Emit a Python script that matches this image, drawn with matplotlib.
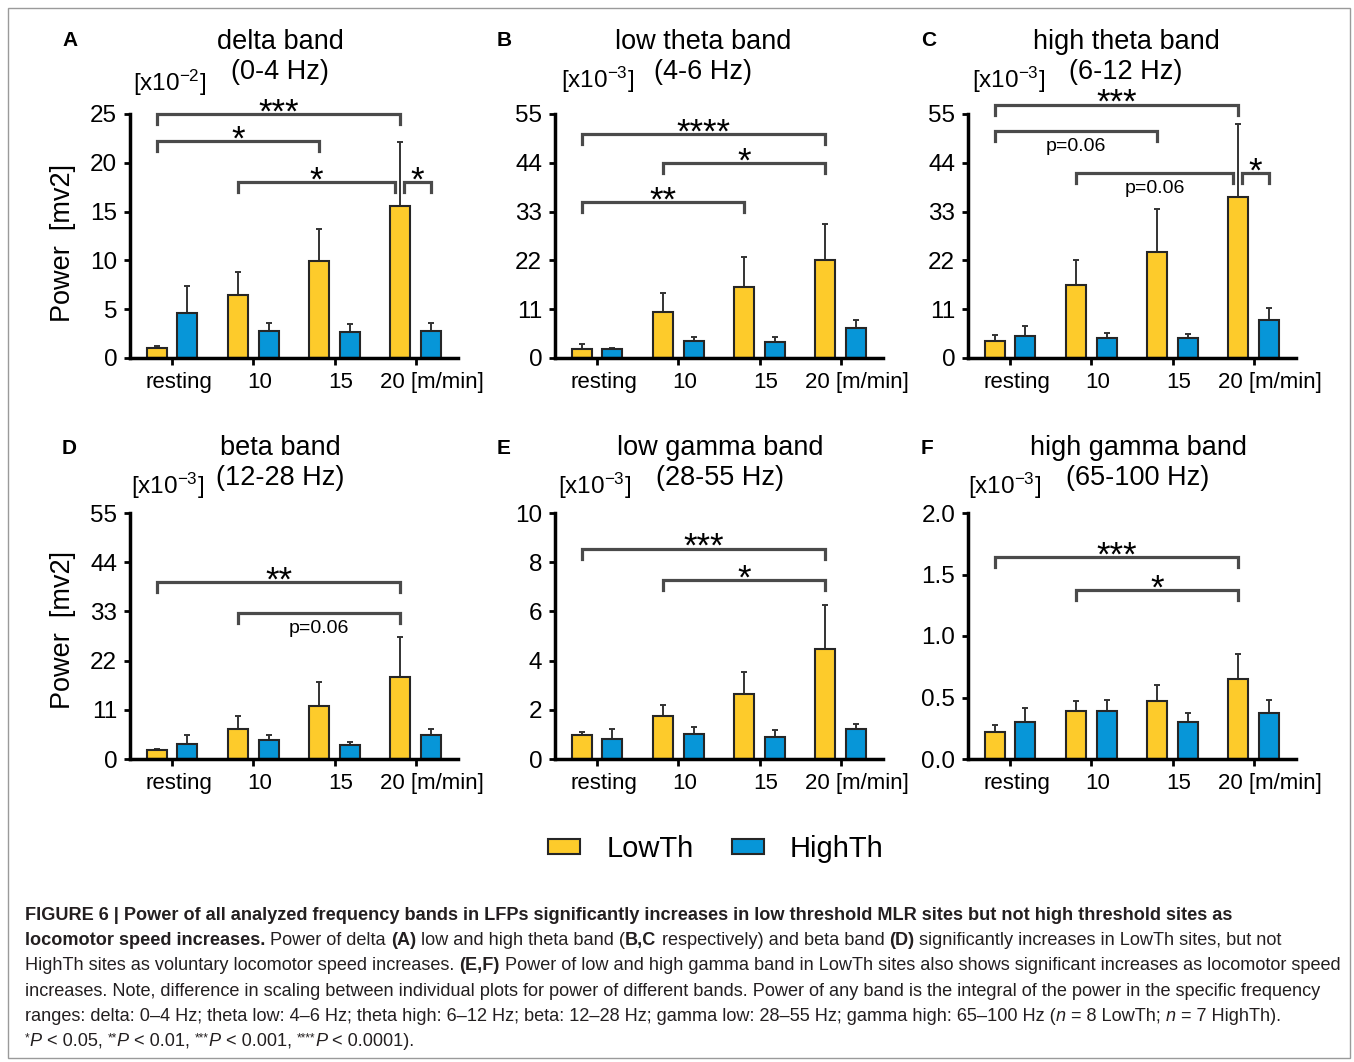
import numpy as np
import matplotlib
matplotlib.use('Agg')
import matplotlib.pyplot as plt
from matplotlib.patches import Patch, Rectangle

plt.rcParams['font.family'] = ['Liberation Sans', 'DejaVu Sans']
plt.rcParams['mathtext.fontset'] = 'custom'
plt.rcParams['mathtext.rm'] = 'Liberation Sans'
plt.rcParams['mathtext.it'] = 'Liberation Sans:italic'
plt.rcParams['mathtext.bf'] = 'Liberation Sans:bold'

W, H = 1354, 1062

# ---------------- data ----------------
categories = ['resting', '10', '15', '20 [m/min]']
series_names = ['LowTh', 'HighTh']

delta_low = [1.0, 6.45, 9.9, 15.55]
delta_low_sem = [0.25, 2.4, 3.3, 6.55]
delta_high = [4.65, 2.77, 2.7, 2.77]
delta_high_sem = [2.75, 0.83, 0.8, 0.83]

ltheta_low = [2.1, 10.4, 16.0, 22.1]
ltheta_low_sem = [1.1, 4.3, 6.8, 8.0]
ltheta_high = [2.1, 3.8, 3.7, 6.7]
ltheta_high_sem = [0.1, 0.9, 1.0, 1.9]

htheta_low = [3.9, 16.4, 23.9, 36.2]
htheta_low_sem = [1.3, 5.8, 9.7, 16.5]
htheta_high = [5.0, 4.6, 4.5, 8.5]
htheta_high_sem = [2.3, 1.0, 0.8, 2.8]

beta_low = [2.0, 6.8, 11.8, 18.3]
beta_low_sem = [0.2, 2.8, 5.5, 9.0]
beta_high = [3.3, 4.2, 3.1, 5.3]
beta_high_sem = [2.0, 1.1, 0.6, 1.4]

lgamma_low = [0.98, 1.76, 2.65, 4.46]
lgamma_low_sem = [0.13, 0.44, 0.9, 1.81]
lgamma_high = [0.81, 1.0, 0.91, 1.21]
lgamma_high_sem = [0.4, 0.31, 0.27, 0.2]

hgamma_low = [0.216, 0.388, 0.469, 0.652]
hgamma_low_sem = [0.064, 0.081, 0.129, 0.203]
hgamma_high = [0.297, 0.388, 0.297, 0.37]
hgamma_high_sem = [0.121, 0.089, 0.073, 0.107]

titles = ['delta band', 'low theta band', 'high theta band',
          'beta band', 'low gamma band', 'high gamma band']
ranges = ['(0-4 Hz)', '(4-6 Hz)', '(6-12 Hz)', '(12-28 Hz)', '(28-55 Hz)', '(65-100 Hz)']
scales = ['-2', '-3', '-3', '-3', '-3', '-3']
letters = ['A', 'B', 'C', 'D', 'E', 'F']
ylims = [25, 55, 55, 55, 10, 2.0]
yticks = [[0, 5, 10, 15, 20, 25],
          [0, 11, 22, 33, 44, 55],
          [0, 11, 22, 33, 44, 55],
          [0, 11, 22, 33, 44, 55],
          [0, 2, 4, 6, 8, 10],
          [0.0, 0.5, 1.0, 1.5, 2.0]]

# significance brackets: (start cat, start series, end cat, end series, level, label)
brackets = [
    [(0, 'L', 3, 'L', 25.0, '***'), (0, 'L', 2, 'L', 22.25, '*'),
     (1, 'L', 3, 'L-', 18.0, '*'), (3, 'L+', 3, 'H', 18.0, '*')],
    [(0, 'L', 3, 'L', 50.4, '****'), (1, 'L', 3, 'L', 44.0, '*'),
     (0, 'L', 2, 'L', 35.1, '**')],
    [(0, 'L', 3, 'L', 57.1, '***'), (0, 'L', 2, 'L', 51.1, 'p=0.06'),
     (1, 'L', 3, 'L-', 41.7, 'p=0.06'), (3, 'L+', 3, 'H', 41.7, '*')],
    [(0, 'L', 3, 'L', 39.6, '**'), (1, 'L', 3, 'L', 32.6, 'p=0.06')],
    [(0, 'L', 3, 'L', 8.55, '***'), (1, 'L', 3, 'L', 7.26, '*')],
    [(0, 'L', 3, 'L', 1.64, '***'), (1, 'L', 3, 'L', 1.372, '*')],
]

lows = [delta_low, ltheta_low, htheta_low, beta_low, lgamma_low, hgamma_low]
lows_sem = [delta_low_sem, ltheta_low_sem, htheta_low_sem, beta_low_sem, lgamma_low_sem, hgamma_low_sem]
highs = [delta_high, ltheta_high, htheta_high, beta_high, lgamma_high, hgamma_high]
highs_sem = [delta_high_sem, ltheta_high_sem, htheta_high_sem, beta_high_sem, lgamma_high_sem, hgamma_high_sem]

# ---------------- style ----------------
YEL = '#FDCB2B'
BLU = '#0796D8'
EDGE = '#262626'
BRK = '#4a4a4a'
OFF = {'L': -0.19, 'H': 0.19, 'L-': -0.255, 'L+': -0.15}
BW = 0.245

fig = plt.figure(figsize=(W / 100, H / 100), dpi=100)
fig.patch.set_facecolor('white')

def fx(x):
    return x / W

def fy(y):
    return 1 - y / H

unit = 81.3
tick0 = [172, 597, 1010, 172, 597, 1010]
row_top = [114, 114, 114, 513, 513, 513]
row_bot = [358, 358, 358, 759, 759, 759]
xlo, xhi = -0.52, 3.52

title_x = [280, 703, 1126, 280, 720, 1138]
title_base = [49, 49, 49, 455, 455, 455]
unit_x = [133, 561, 972, 131, 558, 968]
unit_base = [91, 88, 88, 494, 494, 494]
letter_x = [62, 497, 921, 62, 497, 921]
letter_y = [40, 40, 40, 448, 448, 448]

for k in range(6):
    left = tick0[k] + xlo * unit
    width = (xhi - xlo) * unit
    ax = fig.add_axes([fx(left), fy(row_bot[k]), width / W, (row_bot[k] - row_top[k]) / H])
    x = np.arange(len(categories))
    lo, hi = np.array(lows[k]), np.array(highs[k])
    los, his = np.array(lows_sem[k]), np.array(highs_sem[k])
    ax.errorbar(x + OFF['L'], lo, yerr=[np.zeros_like(lo), los], fmt='none',
                ecolor='#333333', elinewidth=1.4, capsize=2.5, capthick=1.4, zorder=1)
    ax.errorbar(x + OFF['H'], hi, yerr=[np.zeros_like(hi), his], fmt='none',
                ecolor='#333333', elinewidth=1.4, capsize=2.5, capthick=1.4, zorder=1)
    ax.bar(x + OFF['L'], lo, BW, color=YEL, edgecolor=EDGE, linewidth=1.5, zorder=2)
    ax.bar(x + OFF['H'], hi, BW, color=BLU, edgecolor=EDGE, linewidth=1.5, zorder=2)
    ax.set_xlim(xlo, xhi)
    ax.set_ylim(0, ylims[k])
    ax.set_yticks(yticks[k])
    if k == 5:
        ax.set_yticklabels(['%.1f' % v for v in yticks[k]])
    else:
        ax.set_yticklabels(['%d' % v for v in yticks[k]])
    ax.set_xticks(x)
    ax.set_xticklabels([])
    for s in ['top', 'right']:
        ax.spines[s].set_visible(False)
    for s in ['left', 'bottom']:
        ax.spines[s].set_linewidth(2.5)
        ax.spines[s].set_color('black')
        ax.spines[s].set_capstyle('projecting')
    ax.tick_params(axis='y', direction='out', length=4, width=2, labelsize=17.5, pad=5)
    ax.tick_params(axis='x', direction='out', length=5, width=2)
    ax.patch.set_alpha(0)

    # category labels
    for i, c in enumerate(categories):
        if i < 3:
            ax.annotate(c, xy=(i + 0.08, 0), xycoords=('data', 'axes fraction'),
                        xytext=(0, -30 * 0.72), textcoords='offset points',
                        ha='center', va='baseline', fontsize=16, annotation_clip=False)
        else:
            ax.annotate(c, xy=(i - 0.44, 0), xycoords=('data', 'axes fraction'),
                        xytext=(0, -30 * 0.72), textcoords='offset points',
                        ha='left', va='baseline', fontsize=16, annotation_clip=False)

    # brackets
    drop = 0.041 * ylims[k]
    for (c1, s1, c2, s2, lvl, lab) in brackets[k]:
        xa = c1 + OFF[s1]
        xb = c2 + OFF[s2]
        ax.plot([xa, xa, xb, xb], [lvl - drop, lvl, lvl, lvl - drop], color=BRK,
                lw=2.3, clip_on=False, solid_joinstyle='miter', zorder=3)
        xm = (xa + xb) / 2
        if lab.startswith('p'):
            ax.annotate(lab, xy=(xm, lvl), xytext=(0, -5), textcoords='offset points',
                        ha='center', va='top', fontsize=14, annotation_clip=False)
        else:
            ax.annotate(lab, xy=(xm, lvl), xytext=(0, -6), textcoords='offset points',
                        ha='center', va='baseline', fontsize=25, annotation_clip=False)

    # titles, unit labels, panel letters
    fig.text(fx(title_x[k]), fy(title_base[k]), titles[k], ha='center', va='baseline', fontsize=19.5)
    fig.text(fx(title_x[k]), fy(title_base[k] + 30), ranges[k], ha='center', va='baseline', fontsize=19.5)
    fig.text(fx(unit_x[k]), fy(unit_base[k]), '[x10$^{%s}$]' % scales[k], ha='left',
             va='baseline', fontsize=17.5)
    fig.text(fx(letter_x[k]), fy(letter_y[k]), letters[k], ha='left', va='center',
             fontsize=15, fontweight='bold')

# y labels
for yc in [243, 630]:
    fig.text(fx(63), fy(yc), 'Power  [mv2]', rotation=90, ha='center', va='center', fontsize=19.5)

# legend
handles = [Patch(facecolor=YEL, edgecolor=EDGE, linewidth=1.5, label=series_names[0]),
           Patch(facecolor=BLU, edgecolor=EDGE, linewidth=1.5, label=series_names[1])]
fig.legend(handles=handles, loc='center', bbox_to_anchor=(fx(716), fy(849)), ncol=2,
           frameon=False, fontsize=21, handlelength=1.1, handleheight=0.45,
           handletextpad=0.9, columnspacing=1.3)

# border
fig.patches.append(Rectangle((fx(8), fy(1058)), (1350 - 8) / W, (1058 - 8) / H,
                             transform=fig.transFigure, fill=False, ec='#9a9a9a', lw=1))

# caption
renderer = fig.canvas.get_renderer()
CAP_FS = 13.1

def text_width(s, **kw):
    t = fig.text(0, 0, s, **kw)
    w = t.get_window_extent(renderer).width
    t.remove()
    return w

def draw_segments(x0, ybase, segs):
    x = x0
    for seg in segs:
        s = seg[0]
        opt = seg[1] if len(seg) > 1 else {}
        kw = dict(fontsize=opt.get('size', CAP_FS), fontweight=opt.get('weight', 'normal'),
                  fontstyle=opt.get('style', 'normal'), color='#231f20')
        sp = text_width('a a', **kw) - text_width('aa', **kw)
        lead = len(s) - len(s.lstrip(' '))
        trail = len(s) - len(s.rstrip(' '))
        core = s.strip(' ')
        x += lead * sp
        if core:
            t = fig.text(fx(x), fy(ybase - opt.get('dy', 0)), core, ha='left', va='baseline', **kw)
            x += t.get_window_extent(renderer).width
        x += trail * sp

B = {'weight': 'bold'}
I = {'style': 'italic'}
SUP = {'size': CAP_FS * 0.65, 'dy': 5}
cap_lines = [
    [('FIGURE 6 | Power of all analyzed frequency bands in LFPs significantly increases in low threshold MLR sites but not high threshold sites as', B)],
    [('locomotor speed increases.', B), (' Power of delta ',), ('(A)', B), (' low and high theta band (',),
     ('B,C', B), (' respectively) and beta band ',), ('(D)', B),
     (' significantly increases in LowTh sites, but not',)],
    [('HighTh sites as voluntary locomotor speed increases. ',), ('(E,F)', B),
     (' Power of low and high gamma band in LowTh sites also shows significant increases as locomotor speed',)],
    [('increases. Note, difference in scaling between individual plots for power of different bands. Power of any band is the integral of the power in the specific frequency',)],
    [('ranges: delta: 0\u20134 Hz; theta low: 4\u20136 Hz; theta high: 6\u201312 Hz; beta: 12\u201328 Hz; gamma low: 28\u201355 Hz; gamma high: 65\u2013100 Hz (',),
     ('n', I), (' = 8 LowTh; ',), ('n', I), (' = 7 HighTh).',)],
    [('*', SUP), ('P', I), (' < 0.05, ',), ('**', SUP), ('P', I), (' < 0.01, ',),
     ('***', SUP), ('P', I), (' < 0.001, ',), ('****', SUP), ('P', I), (' < 0.0001).',)],
]
for li, segs in enumerate(cap_lines):
    draw_segments(25, 920 + 25.2 * li, segs)

fig.savefig('out.png', dpi=100, facecolor='white')
